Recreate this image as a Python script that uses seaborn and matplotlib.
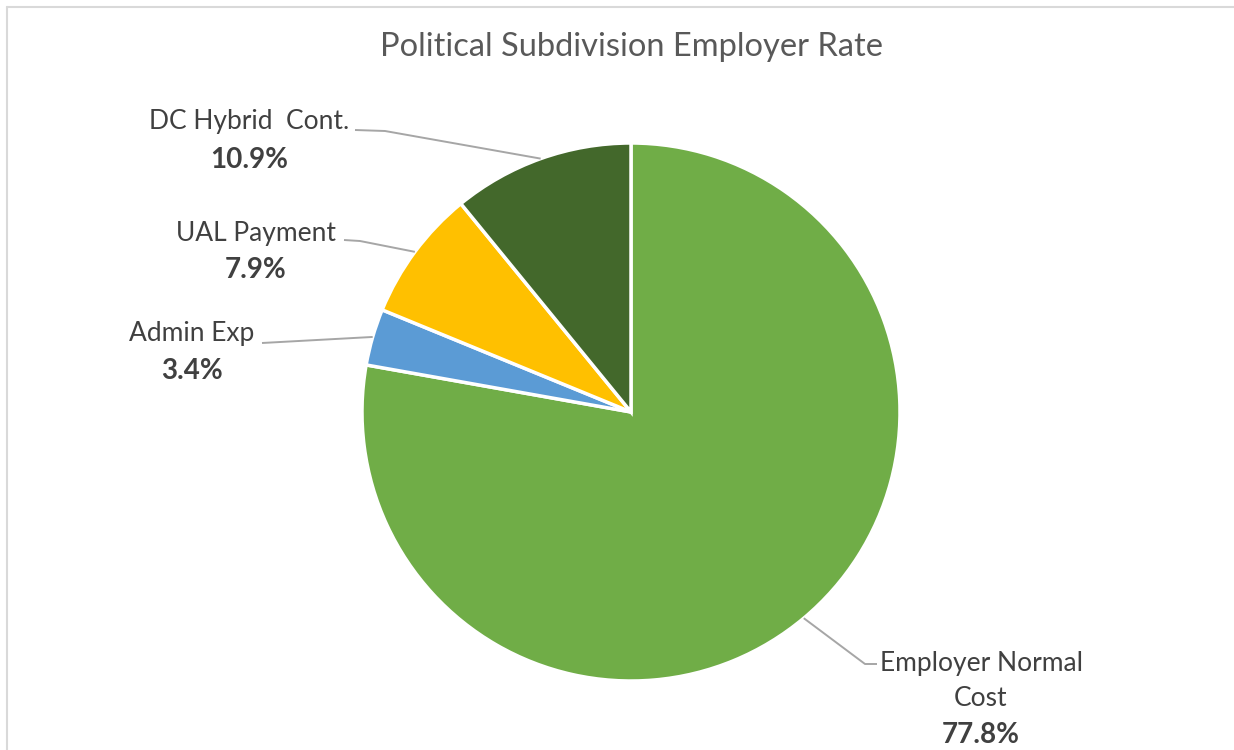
import numpy as np
import matplotlib
matplotlib.use("Agg")
import matplotlib.pyplot as plt
from matplotlib.lines import Line2D
import seaborn as sns

# Employer rate components
categories = ["Employer Normal\nCost", "Admin Exp", "UAL Payment", "DC Hybrid  Cont."]
shares = [77.8, 3.4, 7.9, 10.9]
colors = ["#70AD47", "#5B9BD5", "#FFC000", "#43682B"]
title = "Political Subdivision Employer Rate"

sns.set_theme(style="white")
plt.rcParams["font.family"] = ["Lato", "DejaVu Sans"]

W, H = 1234, 750
fig = plt.figure(figsize=(W / 100, H / 100), dpi=100)
ax = fig.add_axes([0, 0, 1, 1])

cx, cy, r = 631, H - 412, 269
wedges, _ = ax.pie(
    shares, colors=colors, startangle=90, counterclock=False,
    center=(cx, cy), radius=r, frame=True,
    wedgeprops=dict(edgecolor="white", linewidth=2.5),
)
ax.set_xlim(0, W)
ax.set_ylim(0, H)
ax.set_aspect("equal")
ax.axis("off")

# chart border (top and left edges visible)
fig.add_artist(Line2D([7 / W, 7 / W], [0, 1 - 7 / H], transform=fig.transFigure,
                      color="#d9d9d9", lw=1.5))
fig.add_artist(Line2D([7 / W, 1], [1 - 7 / H, 1 - 7 / H], transform=fig.transFigure,
                      color="#d9d9d9", lw=1.5))

ax.text(632, H - 47, title, ha="center", va="center", fontsize=23.5,
        color="#595959")

# label layout: (text x, name y, value y, elbow x, elbow y, line end x, line end y)
layout = [
    (981, 663, 735, 865, 664, 877, 664),
    (192, 333, 371, 262, 343, 262, 343),
    (256, 234, 270, 360, 241, 344, 240),
    (249, 122, 160, 385, 131, 355, 130),
]

text_color = "#404040"
line_color = "#a6a6a6"
fs = 19
for w, cat, val, (tx, ny, vy, ex, ey, lx, ly) in zip(wedges, categories, shares, layout):
    mid = np.deg2rad((w.theta1 + w.theta2) / 2)
    px, py = cx + r * np.cos(mid), cy + r * np.sin(mid)
    ax.plot([px, ex, lx], [py, H - ey, H - ly], color=line_color, lw=1.4,
            solid_capstyle="butt", zorder=1)
    lines = cat.split("\n")
    for i, part in enumerate(lines):
        ax.text(tx, H - (ny + 35 * i), part, ha="center", va="center",
                fontsize=fs, color=text_color)
    ax.text(tx, H - vy, f"{val:.1f}%", ha="center", va="center", fontsize=fs + 1,
            fontweight="bold", color=text_color)

fig.savefig("out.png", dpi=100, facecolor="white")
